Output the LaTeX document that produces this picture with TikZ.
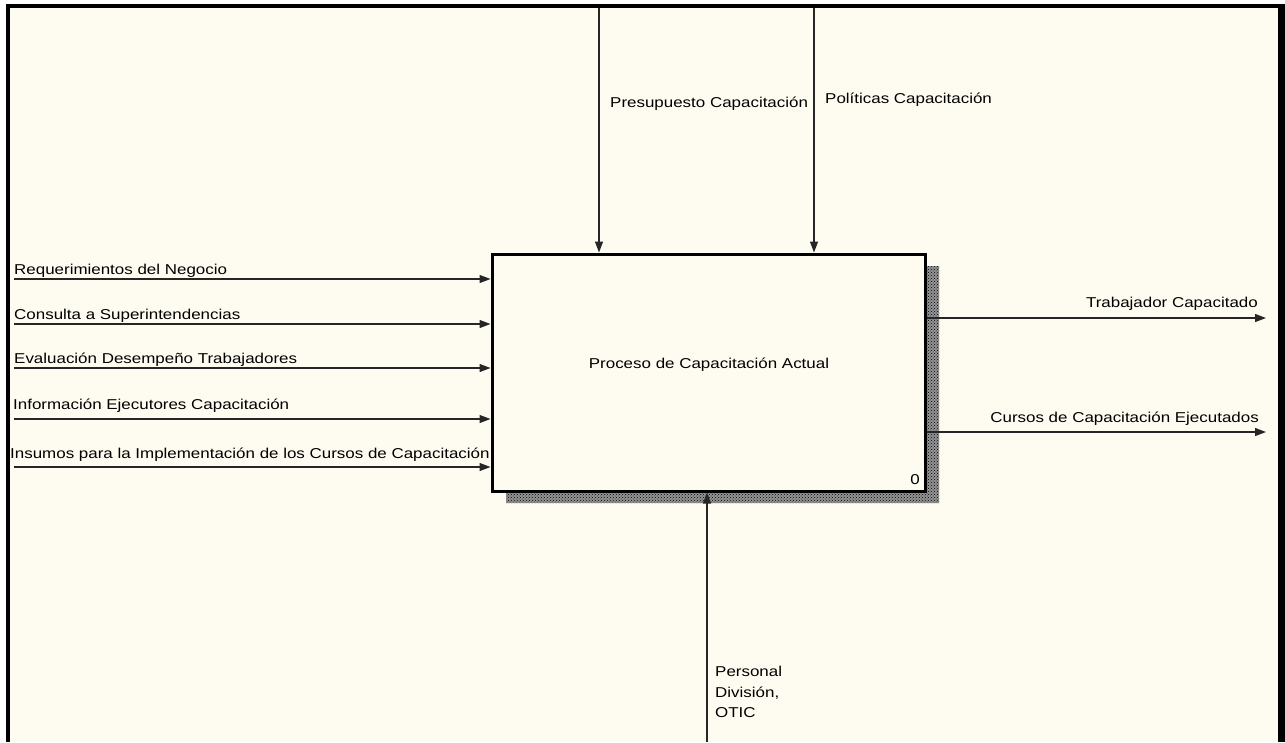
\documentclass[tikz,border=0pt]{standalone}
\usepackage{fontspec}
\setmainfont{Liberation Sans}[FakeStretch=1.185]
\usetikzlibrary{arrows.meta,patterns}
\definecolor{paper}{HTML}{FEFBF0}
\begin{document}
\begin{tikzpicture}[x=1pt,y=-1pt,
  flow/.style={draw=black!85, line width=1.2pt, -{Triangle[length=11pt,width=8pt]}},
  lbl/.style={inner sep=0pt, font=\fontsize{14.3}{20.5}\selectfont},
  activity/.style={draw=black, line width=3pt, fill=paper,
    minimum width=433pt, minimum height=237pt, inner sep=0pt},
  shadow/.style={pattern=crosshatch dots, pattern color=black}]

% canvas and frame
\useasboundingbox (0,0) rectangle (1285,742);
\fill[white] (0,0) rectangle (1285,742);
\fill[paper] (6,4) rectangle (1285,742);
\fill[black] (6,4) rectangle (10,742);
\fill[black] (6,4) rectangle (1285,8);
\fill[black] (1278,4) rectangle (1285,742);

% drop shadow of the activity box
\fill[black!42] (925,266) -- (939,266) -- (939,503) -- (506,503) -- (506,491) -- (925,491) -- cycle;
\fill[shadow] (925,266) -- (939,266) -- (939,503) -- (506,503) -- (506,491) -- (925,491) -- cycle;

% activity box
\node[activity] (proc) at (708.5,372.5) {};
\node[lbl] (ptitle) at (709,365) {Proceso de Capacitación Actual};
\node[lbl, anchor=base] (pnum) at (915,484) {0};

% controls
\coordinate (c1) at (599,8);
\coordinate (c2) at (814,8);
\draw[flow] (c1) -- (c1 |- proc.north);
\draw[flow] (c2) -- (c2 |- proc.north);
\node[lbl, anchor=base west] (lc1) at (610,107) {Presupuesto Capacitación};
\node[lbl, anchor=base west] (lc2) at (825,103) {Políticas Capacitación};

% inputs
\coordinate (i1) at (14,279);
\coordinate (i2) at (14,324);
\coordinate (i3) at (14,368);
\coordinate (i4) at (14,419);
\coordinate (i5) at (14,467);
\foreach \n in {i1,i2,i3,i4,i5}
  \draw[flow] (\n) -- (\n -| proc.west);
\node[lbl, anchor=base west] (li1) at (14,274) {Requerimientos del Negocio};
\node[lbl, anchor=base west] (li2) at (14,319) {Consulta a Superintendencias};
\node[lbl, anchor=base west] (li3) at (14,363) {Evaluación Desempeño Trabajadores};
\node[lbl, anchor=base west] (li4) at (13,409) {Información Ejecutores Capacitación};
\node[lbl, anchor=base west] (li5) at (10,458) {Insumos para la Implementación de los Cursos de Capacitación};

% outputs
\coordinate (o1) at (1266,318);
\coordinate (o2) at (1266,432);
\draw[flow] (o1 -| proc.east) -- (o1);
\draw[flow] (o2 -| proc.east) -- (o2);
\node[lbl, anchor=base east] (lo1) at (1258,307) {Trabajador Capacitado};
\node[lbl, anchor=base east] (lo2) at (1259,422) {Cursos de Capacitación Ejecutados};

% mechanism
\coordinate (m1) at (707,742);
\draw[flow] (m1) -- (m1 |- proc.south);
\node[lbl, anchor=north west, align=left] (lm1) at (715,666) {Personal\\División,\\OTIC};
\end{tikzpicture}
\end{document}
